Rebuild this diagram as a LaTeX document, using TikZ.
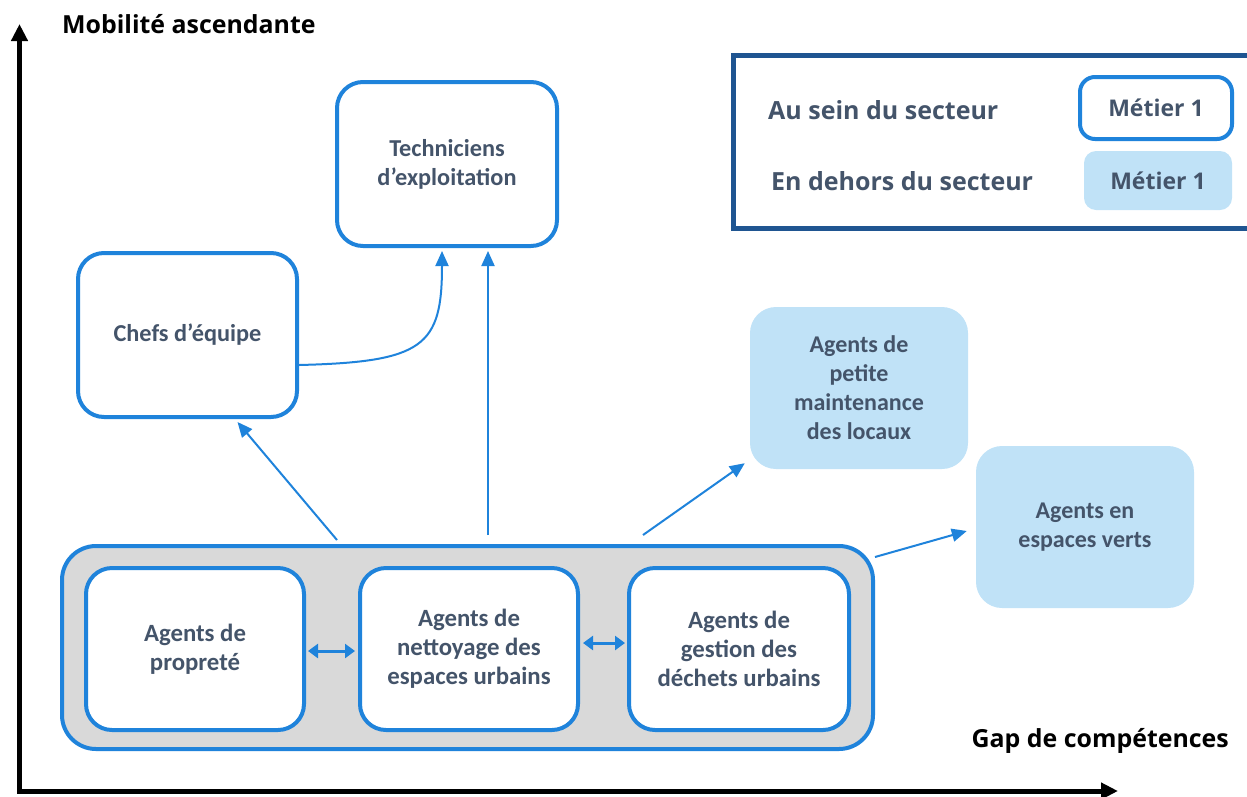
\documentclass[tikz,border=0pt]{standalone}
\usepackage{fontspec}
\setmainfont{Carlito}
\newfontfamily\segoe{Open Sans}
\usetikzlibrary{arrows.meta}
\definecolor{bblue}{RGB}{31,131,219}
\definecolor{lfill}{RGB}{192,226,247}
\definecolor{cgrey}{RGB}{217,217,217}
\definecolor{tcol}{RGB}{68,84,106}
\definecolor{dblue}{RGB}{31,85,145}
\tikzset{
  inbox/.style={draw=bblue, line width=4pt, fill=white, rounded corners=26pt, align=center,
    font=\fontsize{24.3}{29}\selectfont\bfseries, text=tcol, inner sep=0pt},
  lowbox/.style={inbox, font=\fontsize{24.8}{29}\selectfont\bfseries},
  outbox/.style={fill=lfill, rounded corners=26pt, align=center,
    font=\fontsize{24}{29}\selectfont\bfseries, text=tcol, inner sep=0pt},
  arr/.style={draw=bblue, line width=2pt, -{Triangle[length=15pt,width=13pt]}},
  darr/.style={draw=bblue, line width=3pt, {Triangle[length=10pt,width=14pt]}-{Triangle[length=10pt,width=14pt]}},
  axis/.style={draw=black, line width=5pt, -{Triangle[length=17pt,width=16pt]}},
  axlabel/.style={font=\segoe\fontsize{24.9}{29}\selectfont\bfseries, text=black, inner sep=0pt},
  leglabel/.style={font=\segoe\fontsize{25}{29}\selectfont\bfseries, text=tcol, inner sep=0pt, anchor=west},
  metier/.style={font=\segoe\fontsize{23}{27}\selectfont\bfseries, text=tcol, inner sep=0pt},
}
\begin{document}
\begin{tikzpicture}[x=1pt, y=-1pt]
\useasboundingbox (0,0) rectangle (1247,796);
% axes
\coordinate (origin) at (19.5,793);
\coordinate (ytop) at (19.5,24);
\coordinate (xend) at (1118,791);
\draw[axis] (origin) -- (ytop);
\draw[axis] ([xshift=-2.5pt,yshift=2pt]origin) -- (xend);
\node[axlabel, anchor=west] (ylab) at (62,24) {Mobilité ascendante};
\node[axlabel, anchor=east] (xlab) at (1229,741) {Gap de compétences};
% legend
\draw[dblue, line width=5pt] (1252,55) -- (733,55) -- (733,228) -- (1252,228);
\node[leglabel] (l1) at (768,110) {Au sein du secteur};
\node[leglabel] (l2) at (771,181) {En dehors du secteur};
\node[draw=bblue, line width=4pt, rounded corners=15pt, minimum width=152pt, minimum height=62pt, metier] (m1) at (1156,108) {Métier 1};
\node[fill=lfill, rounded corners=12pt, minimum width=148pt, minimum height=59pt, metier] (m2) at (1158,180.5) {Métier 1};
% container
\node[draw=bblue, line width=4pt, fill=cgrey, rounded corners=34pt, minimum width=811pt, minimum height=203pt] (cont) at (467.5,647.5) {};
\node[lowbox, minimum width=218pt, minimum height=162pt] (prop) at (195,649) {Agents de\\propreté};
\node[lowbox, minimum width=218pt, minimum height=162pt] (net) at (469,649) {Agents de\\nettoyage des\\espaces urbains};
\node[lowbox, minimum width=220pt, minimum height=162pt] (gest) at (739,649) {Agents de\\gestion des\\déchets urbains};
% upper boxes
\node[inbox, minimum width=220pt, minimum height=164pt] (tech) at (447,164) {Techniciens\\d’exploitation};
\node[inbox, minimum width=219pt, minimum height=164pt] (chef) at (187.5,335) {Chefs d’équipe};
\node[outbox, minimum width=218pt, minimum height=162pt] (petite) at (859,388) {Agents de\\petite\\maintenance\\des locaux};
\node[outbox, minimum width=218pt, minimum height=162pt] (verts) at (1085,527) {Agents en\\espaces verts};
% connectors
\draw[arr] ([xshift=-130.5pt,yshift=4pt]cont.north) -- ([xshift=50pt,yshift=-3pt]chef.south);
\draw[arr] ([xshift=20.5pt,yshift=9pt]cont.north) -- ([xshift=41pt,yshift=-3pt]tech.south);
\draw[arr] ([yshift=-30pt]chef.east) .. controls +(125,-3) and +(0,95) .. ([xshift=-5pt,yshift=-3pt]tech.south);
\draw[arr] ([xshift=175.5pt,yshift=9pt]cont.north) -- ([xshift=-5pt,yshift=6pt]petite.south west);
\draw[arr] ([yshift=-13pt]cont.north east) -- ([xshift=-9pt,yshift=-4pt]verts.west);
\draw[darr] ([xshift=2pt,yshift=-2pt]prop.east) -- ([xshift=-3pt,yshift=-2pt]net.west);
\draw[darr] ([xshift=3pt,yshift=6pt]net.east) -- ([xshift=-2pt,yshift=6pt]gest.west);
\end{tikzpicture}
\end{document}
